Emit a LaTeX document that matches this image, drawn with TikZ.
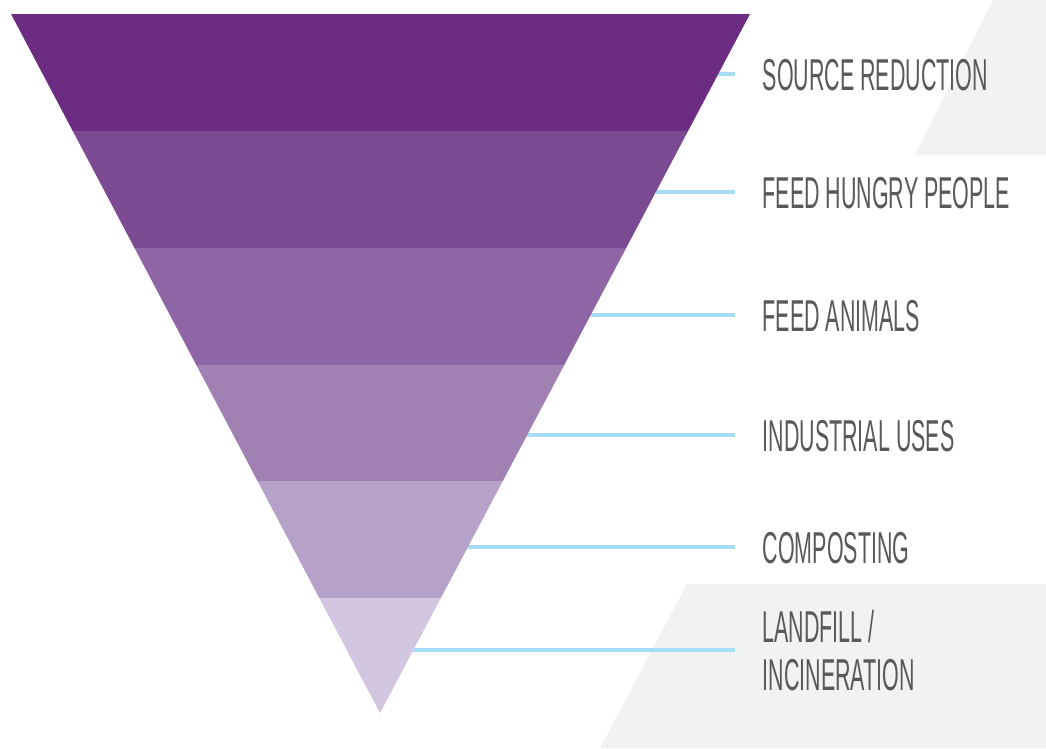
\documentclass[tikz,border=0pt]{standalone}
\usepackage{fontspec}
\newfontfamily\condfont[FakeStretch=0.48]{Liberation Sans}
\definecolor{bandA}{HTML}{6B2C81}
\definecolor{bandB}{HTML}{7B4A93}
\definecolor{bandC}{HTML}{8E65A5}
\definecolor{bandD}{HTML}{A180B4}
\definecolor{bandE}{HTML}{B6A1C9}
\definecolor{bandF}{HTML}{D3C6E0}
\definecolor{bgrey}{HTML}{F1F2F2}
\definecolor{lineblue}{HTML}{A6DDF5}
\definecolor{txtgrey}{HTML}{58595B}
\tikzset{
  lbl/.style={anchor=base west, inner sep=0pt, text=txtgrey,
    font=\condfont\fontsize{12.7pt}{13.66pt}\selectfont},
  lbltwo/.style={anchor=north west, inner sep=0pt, text=txtgrey, align=left,
    font=\condfont\fontsize{12.7pt}{13.66pt}\selectfont},
  connector/.style={draw=lineblue, line width=1.14pt},
}
\begin{document}
\begin{tikzpicture}[x=0.01cm,y=-0.01cm]
\useasboundingbox (0,0) rectangle (1046,748);
% background grey shapes
\fill[bgrey] (993,0) -- (1046,0) -- (1046,155) -- (915,155) -- cycle;
\fill[bgrey] (687,584) -- (1046,584) -- (1046,748) -- (600,748) -- cycle;
% connectors
\coordinate (e1) at (718,74);  \coordinate (t1) at (735,74);
\coordinate (e2) at (656,192); \coordinate (t2) at (735,192);
\coordinate (e3) at (591,315); \coordinate (t3) at (735,315);
\coordinate (e4) at (527,435); \coordinate (t4) at (735,435);
\coordinate (e5) at (468,547); \coordinate (t5) at (735,547);
\coordinate (e6) at (413,650); \coordinate (t6) at (735,650);
\foreach \i in {1,...,6}{\draw[connector] (e\i) -- (t\i);}
% triangle bands
\begin{scope}
\clip (11,14) -- (750,14) -- (380,713) -- cycle;
\fill[bandA] (0,0) rectangle (760,131);
\fill[bandB] (0,131) rectangle (760,248);
\fill[bandC] (0,248) rectangle (760,365);
\fill[bandD] (0,365) rectangle (760,481);
\fill[bandE] (0,481) rectangle (760,598);
\fill[bandF] (0,598) rectangle (760,720);
\end{scope}
% labels
\node[lbl] (l1) at (762,90) {SOURCE REDUCTION};
\node[lbl] (l2) at (762,208) {FEED HUNGRY PEOPLE};
\node[lbl] (l3) at (762,331) {FEED ANIMALS};
\node[lbl] (l4) at (762,451) {INDUSTRIAL USES};
\node[lbl] (l5) at (762,563) {COMPOSTING};
\node[lbltwo] (l6) at (762,609) {LANDFILL /\\INCINERATION};
\end{tikzpicture}
\end{document}
